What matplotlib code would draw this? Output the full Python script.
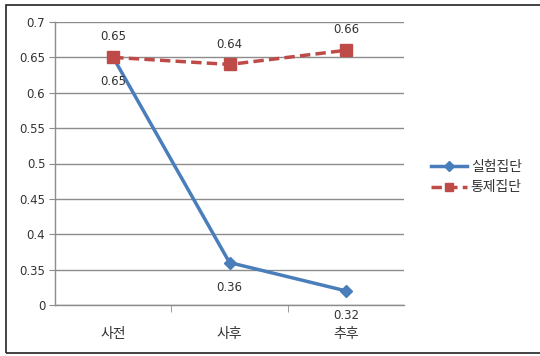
import matplotlib
matplotlib.use("Agg")
import matplotlib.pyplot as plt
from matplotlib.patches import Rectangle

plt.rcParams['font.family'] = ['DejaVu Sans', 'Noto Sans CJK KR']

categories = ['사전', '사후', '추후']
experimental = [0.65, 0.36, 0.32]
control = [0.65, 0.64, 0.66]
series_names = ['실험집단', '통제집단']
y_ticks = [0.30, 0.35, 0.40, 0.45, 0.50, 0.55, 0.60, 0.65, 0.70]
y_tick_labels = ['0', '0.35', '0.4', '0.45', '0.5', '0.55', '0.6', '0.65', '0.7']

blue = '#4A7EBB'
red = '#BE4B48'
grid = '#8C8C8C'
text = '#333333'
korean = ['Noto Sans CJK KR', 'DejaVu Sans']

fig = plt.figure(figsize=(5.4, 3.56), dpi=100)
fig.patch.set_facecolor('white')
# outer frame; its right edge runs past the canvas
fig.patches.append(Rectangle((0.012, 0.008), 1.0, 0.978, transform=fig.transFigure,
                             fill=False, edgecolor='#222222', linewidth=1.2))

ax = fig.add_axes([55 / 540, 1 - 305 / 356, (404 - 55) / 540, (305 - 22) / 356])
x = list(range(len(categories)))

ax.plot(x, experimental, color=blue, linewidth=2.5, marker='D', markersize=6,
        label=series_names[0], zorder=3)
ax.plot(x, control, color=red, linewidth=2.5, linestyle=(0, (3, 1.5)), marker='s',
        markersize=8, label=series_names[1], zorder=4)

for xi, v in zip(x, control):
    ax.annotate(f'{v:.2f}', (xi, v), xytext=(0, 10), textcoords='offset points',
                ha='center', va='bottom', fontsize=8.5, color=text)
for xi, v in zip(x, experimental):
    ax.annotate(f'{v:.2f}', (xi, v), xytext=(0, -13), textcoords='offset points',
                ha='center', va='top', fontsize=8.5, color=text)

ax.set_xlim(-0.5, 2.5)
ax.set_ylim(0.30, 0.70)
ax.set_yticks(y_ticks)
ax.set_yticklabels(y_tick_labels, fontsize=8.5, color=text)
ax.set_xticks(x)
ax.set_xticklabels(categories, fontsize=10, color=text, family=korean)
ax.set_xticks([0.5, 1.5], minor=True)
ax.tick_params(axis='x', which='major', length=0, pad=16)
ax.tick_params(axis='x', which='minor', length=5, color=grid, direction='out')
ax.tick_params(axis='y', length=4, color=grid, direction='out', pad=3)

ax.yaxis.grid(True, color=grid, linewidth=1)
ax.set_axisbelow(True)
for side in ['top', 'right']:
    ax.spines[side].set_visible(False)
for side in ['left', 'bottom']:
    ax.spines[side].set_color(grid)
    ax.spines[side].set_linewidth(1)

fig.legend(loc='center left', bbox_to_anchor=(418 / 540, 1 - 177 / 356), frameon=False,
           prop={'family': korean, 'size': 10}, handlelength=2.6, handletextpad=0.3,
           labelspacing=0.5, labelcolor=text, markerscale=0.8)

fig.savefig('out.png', dpi=100, facecolor='white')
